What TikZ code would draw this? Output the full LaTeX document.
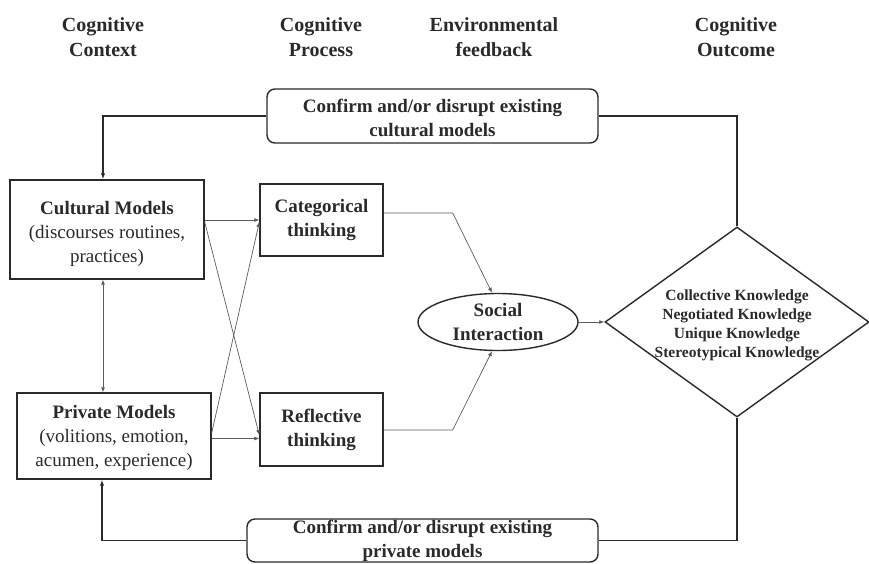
\documentclass[tikz,border=0pt]{standalone}
\usepackage{fontspec}
\setmainfont{Liberation Serif}
\usetikzlibrary{shapes.geometric,arrows.meta}
\definecolor{ink}{HTML}{2A2A2A}
\definecolor{thinc}{HTML}{5C5C5C}
\begin{document}
\begin{tikzpicture}[x=1pt,y=-1pt,
  hdr/.style={font=\fontsize{20}{24.5}\selectfont\bfseries, align=center, text=ink},
  boxnode/.style={draw=ink, line width=1.4pt, align=center, text=ink, inner sep=0pt,
    font=\fontsize{19}{24}\selectfont},
  roundbox/.style={boxnode, rounded corners=8pt},
  conn/.style={draw=thinc, line width=0.7pt, -{Latex[length=5pt,width=4pt]}},
  loopline/.style={draw=ink, line width=1.3pt},
  looparrow/.style={loopline, -{Latex[length=6pt,width=4.5pt]}},
  dblarrow/.style={draw=thinc, line width=0.7pt, {Latex[length=5pt,width=4pt]}-{Latex[length=5pt,width=4pt]}}
]
\useasboundingbox[fill=white] (0,0) rectangle (869,563);

% headers
\node[hdr] (h1) at (103,37) {Cognitive\\Context};
\node[hdr] (h2) at (321,37) {Cognitive\\Process};
\node[hdr] (h3) at (494,37) {Environmental\\feedback};
\node[hdr] (h4) at (736,37) {Cognitive\\Outcome};

% boxes
\node[roundbox, minimum width=331pt, minimum height=54pt] (topbox) at (432.5,116)
  {\rule{0pt}{17pt}\bfseries Confirm and/or disrupt existing\\\bfseries cultural models};
\node[roundbox, minimum width=351pt, minimum height=43pt] (botbox) at (422.5,540.5)
  {\bfseries Confirm and/or disrupt existing\\\bfseries private models};

\node[boxnode, minimum width=194pt, minimum height=99pt] (cult) at (107,229.5)
  {\rule{0pt}{23pt}\textbf{Cultural Models}\\(discourses routines,\\practices)};
\node[boxnode, minimum width=194pt, minimum height=86pt] (priv) at (114,436)
  {\rule{0pt}{18pt}\textbf{Private Models}\\(volitions, emotion,\\acumen, experience)};

\node[boxnode, minimum width=123pt, minimum height=72pt] (cat) at (321.5,220)
  {\bfseries Categorical\\\bfseries thinking};
\node[boxnode, minimum width=123pt, minimum height=73pt] (refl) at (321.5,429.5)
  {\bfseries Reflective\\\bfseries thinking};

\node[ellipse, draw=ink, line width=1.4pt, minimum width=160pt, minimum height=57pt,
  inner sep=0pt, align=center, text=ink, font=\fontsize{19}{23.5}\selectfont\bfseries]
  (soc) at (498,322) {Social\\Interaction};

\node[diamond, draw=ink, line width=1.4pt, minimum width=264pt, minimum height=190pt,
  inner sep=0pt] (diam) at (737,322) {};
\node[align=center, text=ink, font=\fontsize{15.5}{19}\selectfont\bfseries] (diamtext)
  at ([yshift=-3pt]diam.center)
  {Collective Knowledge\\Negotiated Knowledge\\Unique Knowledge\\Stereotypical Knowledge};

% feedback loops
\draw[looparrow] (topbox.west) -| ([xshift=-4pt]cult.north);
\draw[loopline] (topbox.east) -| (diam.north);
\draw[looparrow] (botbox.west) -| ([xshift=-12pt]priv.south);
\draw[loopline] (botbox.east) -| (diam.south);

% cultural <-> private
\draw[dblarrow] ([xshift=-4pt]cult.south) -- ([xshift=-4pt]cult.south |- priv.north);

% context -> process
\draw[conn] ([yshift=9.5pt]cult.east) coordinate (ca) -- (ca -| cat.west);
\draw[conn] ([yshift=7.5pt]cult.east) -- ([yshift=-5.5pt]refl.west);
\draw[conn] ([yshift=3pt]priv.east) -- ([yshift=-2pt]cat.west);
\draw[conn] ([yshift=-2.5pt]priv.east) coordinate (pa) -- (pa -| refl.west);

% process -> social interaction
\draw[conn] ([yshift=7pt]cat.east) -- ++(69,0) -- ([xshift=-6pt]soc.north);
\draw[conn] ([yshift=-0.5pt]refl.east) -- ++(69,0) -- ([xshift=-6pt]soc.south);

% social interaction -> outcome
\draw[conn] (soc.east) -- (diam.west);
\end{tikzpicture}
\end{document}
